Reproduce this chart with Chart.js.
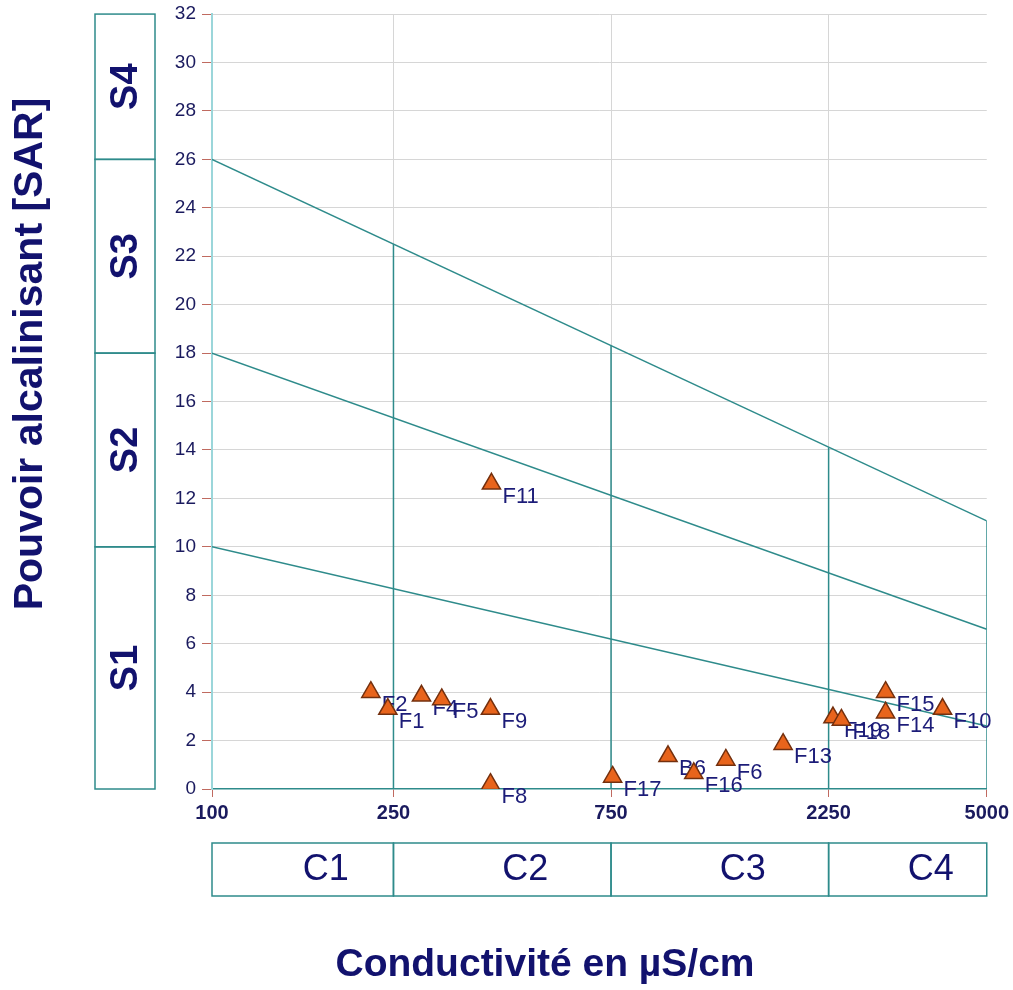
<!DOCTYPE html>
<html>
<head>
<meta charset="utf-8">
<script src="https://cdn.jsdelivr.net/npm/chart.js@4.4.1/dist/chart.umd.min.js"></script>
<style>
  html, body { margin: 0; padding: 0; background: #ffffff; }
  #wrap { width: 1013px; height: 990px; position: relative; }
</style>
</head>
<body>
<div id="wrap"><canvas id="c" width="1013" height="990"></canvas></div>
<script>
// Samples: conductivity (µS/cm) and SAR
const sampleNames  = ['F2', 'F1', 'F4', 'F5', 'F9', 'F8', 'F11', 'F17', 'B6', 'F16', 'F6', 'F13', 'F19', 'F18', 'F15', 'F14', 'F10'];
const conductivity = [223, 243, 288, 319, 408, 408, 410, 756, 1000, 1139, 1339, 1788, 2300, 2400, 3000, 3000, 4000];
const sarValues    = [4.0, 3.3, 3.85, 3.7, 3.3, 0.2, 12.6, 0.5, 1.35, 0.65, 1.2, 1.85, 2.95, 2.85, 4.0, 3.15, 3.3];

// Axis ticks
const xTickValues = [100, 250, 750, 2250, 5000];
const yTickMin = 0, yTickMax = 32, yTickStep = 2;

// Sodium hazard boundaries (SAR at 100 and 5000 µS/cm)
const boundaryEnds = [100, 5000];
const boundaryS1S2 = [10, 2.6];
const boundaryS2S3 = [18, 6.6];
const boundaryS3S4 = [26, 11.07];

// Salinity class cuts and the SAR where each cut meets the S3/S4 boundary
const classCuts    = [250, 750, 2250, 5000];
const classCutTops = [22.5, 18.3, 14.1, 11.07];

// Class boxes
const sClassNames  = ['S1', 'S2', 'S3', 'S4'];
const sClassLimits = [0, 10, 18, 26, 32];
const cClassNames  = ['C1', 'C2', 'C3', 'C4'];
const cClassLimits = [100, 250, 750, 2250, 5000];

const TEAL = '#2e8b8b';
const NAVY = '#12126e';
const FONT = '"Liberation Sans", Arial, sans-serif';

const datasets = [];
datasets.push({
  label: 'samples',
  data: conductivity.map((v, i) => ({ x: v, y: sarValues[i] })),
  pointStyle: 'triangle',
  pointRadius: 10.5,
  pointHoverRadius: 10.5,
  backgroundColor: '#e8641c',
  borderColor: '#74300e',
  borderWidth: 1.5,
  showLine: false
});
[boundaryS1S2, boundaryS2S3, boundaryS3S4].forEach(b => {
  datasets.push({
    data: boundaryEnds.map((x, i) => ({ x: x, y: b[i] })),
    showLine: true, borderColor: TEAL, borderWidth: 1.5, pointRadius: 0, fill: false
  });
});
classCuts.forEach((x, i) => {
  datasets.push({
    data: [{ x: x, y: 0 }, { x: x, y: classCutTops[i] }],
    showLine: true, borderColor: TEAL, borderWidth: 1.5, pointRadius: 0, fill: false
  });
});

// Sample names, drawn just before the markers
const sampleLabels = {
  id: 'sampleLabels',
  beforeDatasetDraw(chart, args) {
    if (args.index !== 0) return;
    const ctx = chart.ctx;
    const meta = chart.getDatasetMeta(0);
    ctx.save();
    ctx.font = '22px ' + FONT;
    ctx.fillStyle = '#1c1c78';
    ctx.textAlign = 'left';
    ctx.textBaseline = 'middle';
    meta.data.forEach((pt, i) => {
      ctx.fillText(sampleNames[i], pt.x + 11, pt.y + 13);
    });
    ctx.restore();
  }
};

// Class boxes and axis titles
const frame = {
  id: 'frame',
  afterDraw(chart) {
    const ctx = chart.ctx;
    const xs = chart.scales.x, ys = chart.scales.y;
    ctx.save();
    ctx.strokeStyle = TEAL;
    ctx.lineWidth = 1.5;
    // S boxes
    const sx0 = 95, sx1 = 155;
    for (let i = 0; i < sClassNames.length; i++) {
      const yb = ys.getPixelForValue(sClassLimits[i]);
      const yt = ys.getPixelForValue(sClassLimits[i + 1]);
      ctx.strokeRect(sx0, yt, sx1 - sx0, yb - yt);
      ctx.save();
      ctx.translate((sx0 + sx1) / 2 + 2, (yt + yb) / 2);
      ctx.rotate(-Math.PI / 2);
      ctx.font = 'bold 38px ' + FONT;
      ctx.fillStyle = NAVY;
      ctx.textAlign = 'center';
      ctx.textBaseline = 'middle';
      ctx.fillText(sClassNames[i], 0, 0);
      ctx.restore();
    }
    // C boxes
    const cy0 = 843, cy1 = 896;
    for (let i = 0; i < cClassNames.length; i++) {
      const xl = xs.getPixelForValue(cClassLimits[i]);
      const xr = xs.getPixelForValue(cClassLimits[i + 1]);
      ctx.strokeRect(xl, cy0, xr - xl, cy1 - cy0);
      ctx.font = '36px ' + FONT;
      ctx.fillStyle = NAVY;
      ctx.textAlign = 'center';
      ctx.textBaseline = 'middle';
      ctx.fillText(cClassNames[i], (xl + xr) / 2 + 23, (cy0 + cy1) / 2 + 1);
    }
    // Axis titles
    ctx.fillStyle = NAVY;
    ctx.textAlign = 'center';
    ctx.textBaseline = 'middle';
    ctx.font = 'bold 39px ' + FONT;
    ctx.fillText('Conductivité en µS/cm', 545, 965);
    ctx.save();
    ctx.translate(31, 354);
    ctx.rotate(-Math.PI / 2);
    ctx.font = 'bold 41px ' + FONT;
    ctx.fillText('Pouvoir alcalinisant [SAR]', 0, 0);
    ctx.restore();
    ctx.restore();
  }
};

new Chart(document.getElementById('c'), {
  type: 'scatter',
  data: { datasets: datasets },
  options: {
    responsive: false,
    animation: false,
    events: [],
    layout: { padding: { left: 0, right: 26, top: 11, bottom: 0 } },
    plugins: { legend: { display: false }, tooltip: { enabled: false } },
    scales: {
      x: {
        type: 'logarithmic',
        min: xTickValues[0],
        max: xTickValues[xTickValues.length - 1],
        afterBuildTicks(scale) { scale.ticks = xTickValues.map(v => ({ value: v, major: false })); },
        afterFit(scale) { scale.height = 201; },
        ticks: {
          autoSkip: false, maxRotation: 0, padding: 4,
          color: '#1a1a5e',
          font: { family: FONT, size: 20, weight: 'bold' },
          callback: (v) => String(v)
        },
        grid: {
          color: (c) => (c.tick && (c.tick.value === 100 || c.tick.value === 5000)) ? 'rgba(0,0,0,0)' : '#d6d6d6',
          lineWidth: 1,
          tickColor: '#c06a60',
          tickLength: 8
        },
        border: { color: TEAL, width: 1.5 }
      },
      y: {
        min: yTickMin, max: yTickMax,
        afterFit(scale) { scale.width = 212; },
        ticks: {
          stepSize: yTickStep, padding: 6,
          color: '#1a1a5e',
          font: { family: FONT, size: 19, lineHeight: 0.85 }
        },
        grid: {
          color: (c) => (c.tick && c.tick.value === 0) ? 'rgba(0,0,0,0)' : '#d6d6d6',
          lineWidth: 1,
          tickColor: '#c06a60',
          tickLength: 10
        },
        border: { color: '#9bd6da', width: 2 }
      }
    }
  },
  plugins: [sampleLabels, frame]
});
</script>
</body>
</html>
